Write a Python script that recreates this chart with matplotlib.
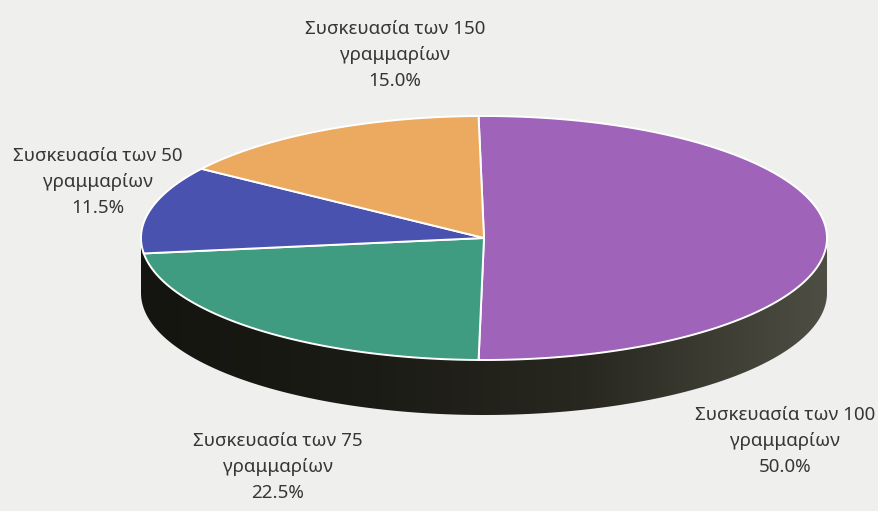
import numpy as np
import matplotlib
matplotlib.use('Agg')
import matplotlib.pyplot as plt
from matplotlib.patches import Polygon

# package sizes (grams) and their shares, clockwise from 12 o'clock
grams = [100, 75, 50, 150]
shares = [50.0, 22.5, 11.5, 15.0]
colors = ['#9f63b9', '#3f9c80', '#4a52b0', '#ebaa60']

# where each label block sits (pixels)
label_pos = [(785, 441), (278, 467), (98, 182), (395, 55)]

W, H = 879, 511
cx, cy = 484, 238      # centre of the top face
rx, ry = 343, 122      # ellipse radii
depth = 55             # thickness of the disc

plt.rcParams['font.family'] = ['Noto Sans', 'DejaVu Sans']

fig = plt.figure(figsize=(W / 100, H / 100), dpi=100)
fig.patch.set_facecolor('#efefed')
ax = fig.add_axes([0, 0, 1, 1])
ax.set_xlim(0, W)
ax.set_ylim(H, 0)
ax.axis('off')


def ellipse_pts(t0, t1, dy=0, n=200):
    t = np.radians(np.linspace(t0, t1, n))
    return np.column_stack([cx + rx * np.cos(t), cy - ry * np.sin(t) + dy])


# side wall: front half of the disc, filled with a dark horizontal gradient
side = np.vstack([ellipse_pts(180, 360), ellipse_pts(360, 180, dy=depth)])
side_patch = Polygon(side, closed=True, facecolor='none', edgecolor='none')
ax.add_patch(side_patch)

grad_x = np.linspace(0, 1, 256)
stops = np.array([[20, 20, 16], [28, 28, 22], [40, 40, 32], [78, 78, 68]]) / 255
pos = [0, 0.35, 0.65, 1.0]
grad = np.column_stack([np.interp(grad_x, pos, stops[:, k]) for k in range(3)])
img = ax.imshow(grad[np.newaxis, :, :], extent=(cx - rx, cx + rx, cy + ry + depth, cy),
                aspect='auto', zorder=1)
img.set_clip_path(side_patch)

# top face wedges (shares normalised to a full turn, as a pie does);
# the first wedge is centred on the right-hand side
total = sum(shares)
sweeps = [s / total * 360 for s in shares]
start = 90.0 + (sweeps[0] - 180) / 2
for sweep, col in zip(sweeps, colors):
    pts = np.vstack([[cx, cy], ellipse_pts(start, start - sweep)])
    ax.add_patch(Polygon(pts, closed=True, facecolor=col, edgecolor='white',
                         linewidth=1.4, zorder=2))
    start -= sweep

# labels
for g, p, (lx, ly) in zip(grams, shares, label_pos):
    ax.text(lx, ly, f'Συσκευασία των {g}\nγραμμαρίων\n{p:.1f}%',
            ha='center', va='center', multialignment='center',
            fontsize=13.5, color='#363636', linespacing=1.6, zorder=3)

fig.savefig('out.png', dpi=100, facecolor=fig.get_facecolor())
